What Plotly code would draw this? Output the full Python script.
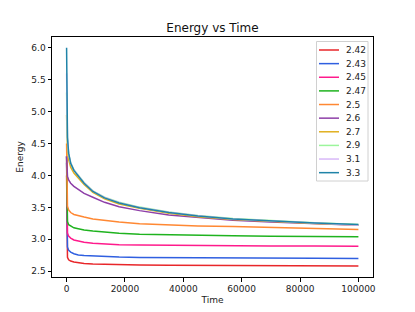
import plotly.graph_objects as go

time = [0, 100, 300, 700, 1400, 2500, 4000, 6000, 9000, 13000, 18000, 25000,
        35000, 45000, 57000, 70000, 85000, 100000]

labels = ["2.42", "2.43", "2.45", "2.47", "2.5", "2.6", "2.7", "2.9", "3.1", "3.3"]
colors = ["#e8262a", "#2f5fe0", "#ff1a8c", "#1fb31f", "#ff8833", "#8e3fa8",
          "#e0b020", "#9cf59c", "#d8b8f8", "#2084a8"]

e_242 = [4.0, 2.85, 2.72, 2.68, 2.66, 2.645, 2.632, 2.622, 2.614, 2.607, 2.600, 2.597,
         2.594, 2.591, 2.589, 2.587, 2.585, 2.583]
e_243 = [4.2, 3.05, 2.88, 2.83, 2.80, 2.775, 2.755, 2.747, 2.740, 2.730, 2.722, 2.717,
         2.713, 2.710, 2.707, 2.704, 2.702, 2.700]
e_245 = [4.3, 3.30, 3.10, 3.05, 3.02, 2.99, 2.97, 2.955, 2.94, 2.925, 2.915, 2.910,
         2.905, 2.900, 2.897, 2.895, 2.894, 2.892]
e_247 = [4.3, 3.50, 3.28, 3.23, 3.205, 3.18, 3.165, 3.145, 3.13, 3.11, 3.095, 3.08,
         3.07, 3.06, 3.055, 3.05, 3.045, 3.04]
e_25 = [4.5, 3.75, 3.52, 3.46, 3.42, 3.39, 3.37, 3.35, 3.32, 3.295, 3.27, 3.245,
        3.225, 3.21, 3.20, 3.185, 3.17, 3.155]
e_26 = [4.3, 4.10, 3.99, 3.93, 3.88, 3.83, 3.78, 3.72, 3.66, 3.58, 3.51, 3.45,
        3.38, 3.34, 3.30, 3.27, 3.245, 3.22]
e_27 = [4.95, 4.60, 4.40, 4.25, 4.13, 4.04, 3.96, 3.86, 3.735, 3.635, 3.555, 3.485,
        3.41, 3.355, 3.31, 3.277, 3.248, 3.225]
e_29 = [5.3, 4.85, 4.55, 4.33, 4.20, 4.09, 4.00, 3.89, 3.76, 3.66, 3.58, 3.505,
        3.43, 3.372, 3.325, 3.29, 3.258, 3.232]
e_31 = [5.6, 4.95, 4.58, 4.34, 4.195, 4.085, 3.995, 3.885, 3.755, 3.655, 3.575, 3.50,
        3.425, 3.368, 3.32, 3.286, 3.255, 3.222]
e_33 = [6.0, 5.00, 4.60, 4.35, 4.19, 4.08, 3.99, 3.88, 3.75, 3.65, 3.57, 3.495,
        3.42, 3.365, 3.32, 3.285, 3.255, 3.232]

series = [e_242, e_243, e_245, e_247, e_25, e_26, e_27, e_29, e_31, e_33]

x_ticks = [0, 20000, 40000, 60000, 80000, 100000]
y_ticks = [2.5, 3.0, 3.5, 4.0, 4.5, 5.0, 5.5, 6.0]

# the page body adds an 8px offset; figure is sized so it ends at the window edge
OFF = 8
W, H = 415 - OFF, 312 - OFF
L, R, T, B = 52 - OFF, 42, 37 - OFF, 35
PW, PH = W - L - R, H - T - B


def px_x(px):
    return (px - OFF - L) / PW


def px_y(py):
    return (H - B - (py - OFF)) / PH


fig = go.Figure()
for lab, col, vals in zip(labels, colors, series):
    fig.add_trace(go.Scatter(x=time, y=vals, mode="lines", name=lab, showlegend=False,
                             line=dict(color=col, width=1.5)))

font = dict(family="DejaVu Sans", size=9, color="#222222")

# manual legend (matplotlib-like compact box)
shapes = [dict(type="rect", xref="paper", yref="paper",
               x0=px_x(316.5), x1=px_x(368), y0=px_y(41.5), y1=px_y(181),
               line=dict(color="#d0d0d0", width=1), fillcolor="rgba(255,255,255,0.85)",
               layer="above")]
annotations = []
for i, (lab, col) in enumerate(zip(labels, colors)):
    cy = 50 + i * 13.63
    shapes.append(dict(type="line", xref="paper", yref="paper",
                       x0=px_x(319), x1=px_x(339), y0=px_y(cy), y1=px_y(cy),
                       line=dict(color=col, width=1.5), layer="above"))
    annotations.append(dict(text=lab, xref="paper", yref="paper", x=px_x(344), y=px_y(cy),
                            xanchor="left", yanchor="middle", showarrow=False,
                            font=dict(family="DejaVu Sans", size=9, color="#222222")))

fig.update_layout(
    width=W, height=H,
    margin=dict(l=L, r=R, t=T, b=B, autoexpand=False),
    paper_bgcolor="white", plot_bgcolor="white",
    font=font,
    title=dict(text="Energy vs Time", x=0.5, xanchor="center", xref="paper",
               y=1 - (28 - OFF) / H, yanchor="middle",
               font=dict(family="DejaVu Sans", size=12, color="#111111")),
    showlegend=False,
    shapes=shapes,
    annotations=annotations,
)
fig.update_xaxes(range=[-5000, 105000], tickvals=x_ticks, tickformat="d", automargin=False,
                 showgrid=False, zeroline=False, showline=True, mirror=True,
                 linecolor="black", linewidth=1, ticks="outside", ticklen=3.5,
                 tickcolor="black", title=dict(text="Time", standoff=3, font=font))
fig.update_yaxes(range=[2.41, 6.17], tickvals=y_ticks, tickformat=".1f", automargin=False,
                 showgrid=False, zeroline=False, showline=True, mirror=True,
                 linecolor="black", linewidth=1, ticks="outside", ticklen=3.5,
                 tickcolor="black", title=dict(text="Energy", standoff=6, font=font))

fig.write_html("out.html")
